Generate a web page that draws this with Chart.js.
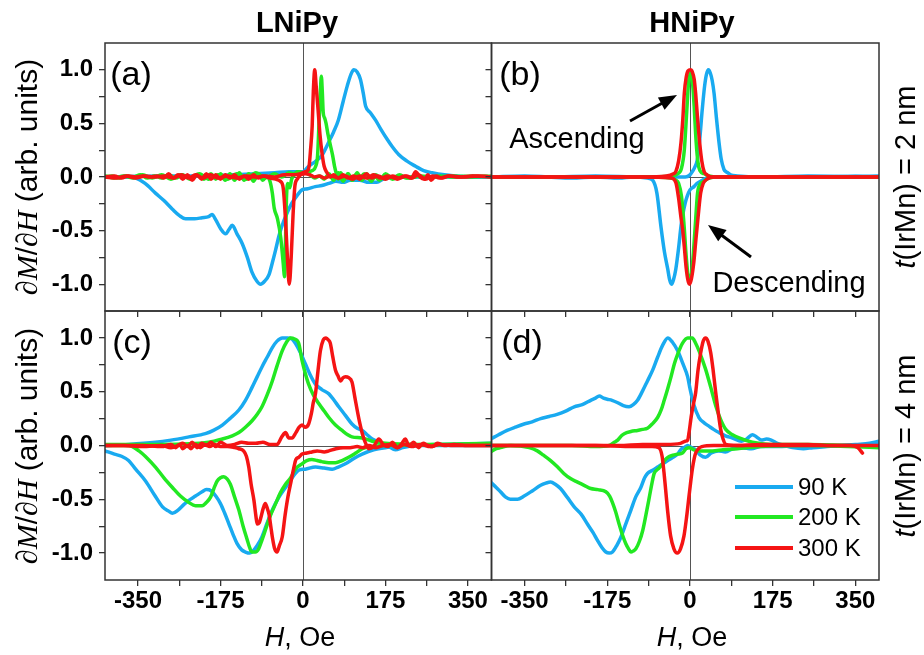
<!DOCTYPE html>
<html><head><meta charset="utf-8">
<script src="https://cdn.jsdelivr.net/npm/chart.js@4.4.1/dist/chart.umd.min.js"></script>
<style>
html,body{margin:0;padding:0;background:#fff;}
#wrap{position:relative;width:924px;height:655px;overflow:hidden;font-family:'Liberation Sans',Arial,sans-serif;color:#000;}
canvas{position:absolute;left:0;top:0;}
.t{position:absolute;white-space:nowrap;line-height:1;transform:translate(-50%,-50%);}
.rot{transform:translate(-50%,-50%) rotate(-90deg);}
.m{font-family:'Liberation Serif','Times New Roman',serif;font-style:italic;}
.lg{position:absolute;height:4px;width:58px;}
.lt{position:absolute;white-space:nowrap;line-height:1;transform:translateY(-50%);font-size:24px;}
</style></head><body>
<div id="wrap">
<canvas id="cA" width="924" height="655"></canvas>
<canvas id="cB" width="924" height="655"></canvas>
<canvas id="cC" width="924" height="655"></canvas>
<canvas id="cD" width="924" height="655"></canvas>

<div class="t" style="left:297px;top:22px;font-size:29px;font-weight:bold;">LNiPy</div>
<div class="t" style="left:692px;top:22px;font-size:29px;font-weight:bold;">HNiPy</div>

<div class="t rot" style="left:27px;top:177px;font-size:30px;"><span class="m">∂M</span>/<span class="m">∂H</span> (arb. units)</div>
<div class="t rot" style="left:27px;top:446px;font-size:30px;"><span class="m">∂M</span>/<span class="m">∂H</span> (arb. units)</div>

<div class="t rot" style="left:905px;top:177px;font-size:29px;"><i>t</i>(IrMn) = 2 nm</div>
<div class="t rot" style="left:905px;top:446px;font-size:29px;"><i>t</i>(IrMn) = 4 nm</div>

<div class="t" style="left:300px;top:637px;font-size:27px;"><i>H</i>, Oe</div>
<div class="t" style="left:692px;top:637px;font-size:27px;"><i>H</i>, Oe</div>

<div class="t" style="left:131px;top:73px;font-size:34px;">(a)</div>
<div class="t" style="left:520px;top:73px;font-size:34px;">(b)</div>
<div class="t" style="left:132px;top:341px;font-size:34px;">(c)</div>
<div class="t" style="left:522px;top:341px;font-size:34px;">(d)</div>

<div class="t" style="left:577px;top:138px;font-size:29px;">Ascending</div>
<div class="t" style="left:789px;top:282px;font-size:29px;">Descending</div>

<svg width="924" height="655" style="position:absolute;left:0;top:0;">
  <line x1="630" y1="121" x2="666.5" y2="100.8" stroke="#000" stroke-width="3"/>
  <polygon points="677,95 664.6,109.8 657.9,97.6" fill="#000"/>
  <line x1="751" y1="257" x2="717.6" y2="232.2" stroke="#000" stroke-width="3"/>
  <polygon points="708,225 726.6,230.1 718.2,241.3" fill="#000"/>
</svg>

<div id="legend"></div>
</div>

<script>
// ---------------- data ----------------
const TEMPS = ['90 K', '200 K', '300 K'];
const COLORS = ['#19aaf0', '#22e822', '#f51414'];

const X_TICKS = [-350, -262.5, -175, -87.5, 0, 87.5, 175, 262.5, 350];
const X_LABELS = [-350, -175, 0, 175, 350];
const Y_TICKS = [-1, -0.75, -0.5, -0.25, 0, 0.25, 0.5, 0.75, 1];
const Y_LABELS = [-1, -0.5, 0, 0.5, 1];

// Panel (a) LNiPy, t = 2 nm
const a90Desc = [[-420,0],[-380,0],[-355,-0.01],[-335,-0.06],[-313,-0.15],[-295,-0.22],[-277,-0.30],[-262,-0.36],[-249,-0.39],[-230,-0.39],[-214,-0.38],[-200,-0.37],[-193,-0.35],[-185,-0.40],[-175,-0.48],[-164,-0.53],[-157,-0.49],[-150,-0.45],[-140,-0.53],[-129,-0.62],[-118,-0.75],[-108,-0.89],[-98,-0.97],[-90,-1.0],[-81,-0.97],[-72,-0.91],[-65,-0.80],[-58,-0.68],[-51,-0.55],[-44,-0.45],[-35,-0.35],[-23,-0.24],[-12,-0.17],[-2,-0.12],[10,-0.11],[26,-0.09],[40,-0.08],[55,-0.06],[70,-0.04],[85,-0.05],[100,-0.03],[120,-0.03],[140,-0.05],[157,-0.05],[170,-0.02],[200,0],[260,0],[400,0]];
const a90Asc = [[-420,0],[-300,0.01],[-200,0.01],[-150,0.02],[-100,0.03],[-60,0.04],[-30,0.05],[0,0.05],[12,0.10],[25,0.14],[40,0.20],[54,0.32],[65,0.42],[75,0.53],[85,0.70],[94,0.85],[102,0.96],[108,1.0],[115,0.98],[122,0.91],[128,0.78],[133,0.66],[143,0.60],[154,0.53],[166,0.44],[179,0.35],[190,0.28],[203,0.21],[220,0.15],[239,0.10],[256,0.06],[274,0.04],[300,0.02],[323,0.01],[360,0],[400,0]];
const a200Desc = [[-420,0],[-405,0.01],[-390,-0.01],[-375,0.01],[-360,0],[-345,0.02],[-330,-0.01],[-315,0.01],[-300,-0.01],[-285,0.02],[-270,-0.01],[-255,0.02],[-240,-0.02],[-225,0.02],[-210,-0.02],[-195,0.03],[-185,-0.02],[-175,0.03],[-165,-0.03],[-155,0.03],[-145,-0.03],[-135,0.04],[-125,-0.03],[-115,0.03],[-105,-0.04],[-95,0.03],[-85,-0.03],[-77,0.01],[-70,-0.04],[-65,-0.15],[-61,-0.29],[-54,-0.39],[-47,-0.57],[-42,-0.80],[-39,-0.93],[-37,-0.60],[-35,-0.20],[-32,-0.06],[-28,-0.10],[-24,-0.02],[-18,0.02],[-10,0.05],[-3,0.03],[5,0.04],[15,0.02],[25,-0.01],[35,0.01],[45,-0.02],[55,0.03],[65,-0.03],[75,0.04],[85,-0.04],[95,0.03],[105,-0.03],[115,0.04],[125,-0.03],[135,0.03],[145,-0.04],[155,0.02],[165,-0.02],[175,0.03],[190,-0.01],[205,0.02],[220,-0.01],[240,0.01],[260,-0.01],[290,0.01],[320,0],[360,0.01],[400,0]];
const a200Asc = [[-420,0.01],[-400,-0.01],[-380,0.01],[-360,-0.01],[-340,0.02],[-320,-0.01],[-300,0.02],[-280,-0.02],[-260,0.02],[-240,-0.01],[-220,0.03],[-200,-0.02],[-180,0.02],[-160,-0.02],[-140,0.03],[-120,-0.02],[-100,0.04],[-80,-0.01],[-60,0.03],[-45,0.0],[-30,0.04],[-20,0.03],[-10,0.05],[0,0.04],[10,0.05],[20,0.06],[27,0.10],[31,0.20],[34,0.50],[37,0.80],[39,0.94],[41,0.80],[43,0.60],[46,0.55],[49,0.50],[53,0.40],[58,0.30],[63,0.20],[67,0.10],[71,0.03],[75,-0.02],[80,0.04],[88,-0.02],[96,0.03],[104,-0.03],[112,0.02],[120,-0.01],[130,0.03],[140,-0.02],[150,0.02],[162,-0.03],[175,0.02],[190,-0.02],[205,0.01],[225,-0.01],[250,0.01],[280,0],[320,0.01],[360,0],[400,0.01]];
const a300Desc = [[-420,0],[-400,0.01],[-385,-0.01],[-370,0.01],[-355,0],[-340,0.01],[-325,0],[-310,0.01],[-295,-0.01],[-285,0.03],[-275,-0.01],[-265,0.02],[-255,-0.02],[-245,0.02],[-235,-0.03],[-225,0.02],[-215,-0.02],[-205,0.03],[-195,-0.02],[-185,0.02],[-175,-0.02],[-165,0.02],[-155,-0.01],[-145,0.02],[-135,-0.02],[-125,0.01],[-115,-0.02],[-105,0.02],[-95,-0.01],[-85,0.01],[-70,-0.01],[-58,-0.02],[-48,-0.04],[-42,-0.10],[-37,-0.40],[-33,-0.75],[-29,-1.0],[-25,-0.75],[-21,-0.35],[-17,-0.08],[-12,-0.02],[-5,0.02],[5,0.03],[15,0.02],[25,0],[35,0.01],[45,-0.01],[60,0.01],[75,-0.01],[90,0.01],[105,-0.02],[120,0.01],[135,-0.01],[150,0.02],[165,-0.01],[180,0.01],[200,-0.02],[215,0.01],[230,-0.01],[245,0.02],[260,-0.02],[275,0.01],[290,-0.01],[310,0.01],[340,0],[370,0.01],[400,0]];
const a300Asc = [[-420,0],[-395,-0.01],[-375,0.01],[-355,-0.01],[-335,0.01],[-315,0],[-295,0.01],[-275,-0.01],[-258,0.02],[-242,-0.01],[-228,0.02],[-212,-0.01],[-196,0.02],[-180,-0.01],[-160,0.01],[-140,-0.01],[-120,0.01],[-100,0],[-80,0.01],[-60,0.0],[-40,0.02],[-20,0.02],[-5,0.03],[0,0.04],[5,0.05],[10,0.06],[13,0.10],[16,0.25],[19.5,0.47],[22,0.80],[25,1.0],[28,0.85],[32,0.63],[36,0.40],[40.5,0.22],[45,0.10],[51,0.04],[58,0],[65,0.02],[75,-0.01],[85,0.02],[95,-0.01],[108,0.01],[120,-0.02],[135,0.03],[145,-0.01],[160,0.01],[175,-0.02],[190,0.01],[205,-0.01],[220,0.01],[230,-0.01],[239,0.05],[248,0],[258,-0.02],[265,0.02],[272,-0.03],[282,0.01],[295,-0.01],[310,0.01],[330,0],[360,0.01],[400,0]];

// Panel (b) HNiPy, t = 2 nm
const b90Desc = [[-420,0],[-350,0.01],[-300,0],[-250,-0.01],[-200,0],[-150,-0.01],[-120,0],[-90,-0.01],[-79,-0.03],[-70,-0.15],[-61.5,-0.46],[-54,-0.70],[-47,-0.86],[-43,-0.96],[-39,-1.0],[-35,-0.96],[-30,-0.86],[-24,-0.66],[-19,-0.46],[-16,-0.37],[-10,-0.24],[-6,-0.18],[0,-0.12],[8.5,-0.09],[15,-0.06],[22.6,-0.04],[35,-0.01],[50,0],[150,0],[250,0.01],[400,0]];
const b90Asc = [[-420,0],[-300,0],[-200,0.01],[-100,0],[-10,0],[0,0.02],[5,0.05],[10,0.09],[15.5,0.16],[20,0.32],[26,0.63],[31,0.85],[35,0.96],[39,1.0],[43,0.97],[47,0.90],[51,0.78],[56,0.55],[61.5,0.32],[66,0.17],[72,0.07],[76,0.05],[80,0.04],[86,0.02],[100,0.01],[150,0],[250,0],[400,0.01]];
const b200Desc = [[-420,0],[-300,0],[-200,0],[-100,0],[-40,-0.01],[-30,-0.03],[-24,-0.06],[-18,-0.18],[-13,-0.42],[-8,-0.74],[-4,-0.92],[0,-0.97],[4,-0.88],[8,-0.66],[12,-0.40],[16,-0.15],[21,-0.07],[30,-0.04],[40,-0.01],[60,0],[400,0]];
const b200Asc = [[-420,0],[-300,0],[-200,0],[-100,0],[-40,0.01],[-26,0.03],[-18,0.08],[-12,0.25],[-7,0.60],[-3,0.88],[1,0.97],[5,0.90],[9,0.65],[12,0.40],[16,0.17],[21,0.06],[30,0.03],[40,0.01],[60,0],[400,0]];
const b300Desc = [[-420,0],[-300,0],[-200,0],[-100,0],[-40,-0.01],[-30,-0.05],[-24,-0.20],[-19,-0.38],[-15.5,-0.49],[-12,-0.65],[-8,-0.85],[-4,-0.97],[-1,-1.0],[3,-0.95],[8,-0.80],[12,-0.61],[17,-0.38],[22.6,-0.15],[28,-0.06],[36,-0.02],[50,0],[400,0]];
const b300Asc = [[-420,0],[-300,0],[-200,0],[-100,0],[-50,0.01],[-35,0.03],[-30,0.05],[-24,0.15],[-19,0.32],[-15,0.55],[-12,0.78],[-8,0.93],[-4,0.99],[1,1.0],[5,0.98],[9,0.91],[12,0.78],[16,0.55],[20.5,0.32],[25,0.15],[30,0.05],[36,0.02],[45,0],[400,0]];

// Panel (c) LNiPy, t = 4 nm
const c90Desc = [[-420,-0.05],[-400,-0.08],[-385,-0.10],[-370,-0.14],[-355,-0.22],[-334,-0.33],[-315,-0.46],[-298,-0.57],[-285,-0.61],[-277,-0.63],[-265,-0.60],[-253,-0.55],[-242,-0.51],[-228,-0.47],[-214,-0.43],[-205,-0.41],[-195,-0.42],[-185,-0.47],[-175,-0.54],[-166,-0.63],[-157,-0.73],[-148,-0.83],[-140,-0.91],[-130,-0.97],[-122,-0.99],[-113,-1.0],[-108,-0.99],[-97,-0.93],[-87,-0.85],[-76,-0.72],[-65,-0.60],[-51,-0.48],[-37,-0.39],[-26,-0.32],[-16,-0.26],[-9,-0.23],[5,-0.22],[26.5,-0.20],[45,-0.21],[62,-0.22],[75,-0.20],[90,-0.17],[108,-0.12],[125.6,-0.08],[150,-0.04],[175,-0.02],[200,-0.01],[250,0],[400,0]];
const c90Asc = [[-420,0],[-370,0.01],[-313,0.03],[-280,0.05],[-242,0.08],[-207,0.11],[-190,0.14],[-171,0.19],[-155,0.25],[-136,0.33],[-122,0.42],[-108,0.54],[-97,0.64],[-87,0.73],[-76,0.82],[-65,0.91],[-55,0.97],[-44,1.0],[-33,1.0],[-23,0.99],[-16,0.95],[-5,0.86],[5,0.76],[15,0.66],[26.5,0.57],[40,0.52],[55,0.48],[66,0.42],[76,0.36],[90,0.28],[104,0.20],[115,0.16],[125.6,0.14],[136,0.10],[147,0.06],[168,0.02],[182,-0.01],[196,-0.04],[212,-0.02],[240,0],[300,0.01],[400,0.02]];
const c200Desc = [[-420,0],[-370,0],[-348,-0.05],[-330,-0.12],[-313,-0.20],[-295,-0.30],[-277,-0.39],[-260,-0.47],[-242,-0.53],[-228,-0.56],[-214,-0.56],[-205,-0.53],[-196,-0.48],[-189,-0.40],[-182,-0.33],[-175,-0.30],[-168,-0.29],[-161,-0.31],[-154,-0.36],[-145,-0.48],[-136,-0.60],[-127,-0.75],[-118,-0.88],[-113,-0.95],[-108,-0.99],[-101,-0.99],[-94,-0.96],[-87,-0.88],[-80,-0.79],[-70,-0.66],[-58,-0.54],[-48,-0.44],[-37,-0.36],[-26,-0.30],[-16,-0.22],[-2,-0.17],[8,-0.14],[19,-0.13],[30,-0.14],[40,-0.15],[55,-0.16],[69,-0.16],[83,-0.14],[97,-0.11],[112,-0.07],[126,-0.03],[145,-0.01],[175,0],[400,0.01]];
const c200Asc = [[-420,0.01],[-300,0.01],[-200,0.03],[-171,0.06],[-150,0.09],[-136,0.12],[-122,0.17],[-108,0.23],[-97,0.29],[-87,0.36],[-76,0.47],[-65,0.60],[-55,0.74],[-44,0.88],[-35,0.96],[-26.5,1.0],[-18,0.99],[-9,0.95],[-2,0.79],[5,0.67],[12,0.57],[22,0.47],[33.5,0.39],[45,0.32],[55,0.26],[69,0.19],[83,0.14],[95,0.10],[104,0.08],[125.6,0.07],[147,0.04],[175,0.02],[250,0.01],[400,0.02]];
const c300Desc = [[-420,0],[-380,0],[-340,0],[-300,-0.01],[-280,0.01],[-270,-0.02],[-262,0.01],[-255,-0.03],[-245,0],[-238,-0.03],[-228,0.01],[-218,-0.02],[-208,0.01],[-198,-0.01],[-188,0.01],[-175,-0.01],[-160,-0.01],[-145,-0.02],[-136,-0.03],[-126,-0.05],[-120,-0.10],[-115,-0.20],[-110,-0.36],[-104,-0.51],[-100,-0.65],[-97,-0.73],[-93,-0.72],[-90,-0.68],[-84,-0.58],[-80,-0.54],[-76,-0.58],[-72,-0.64],[-68,-0.76],[-65,-0.85],[-60,-0.96],[-55,-0.99],[-50,-0.93],[-44,-0.85],[-38,-0.65],[-32,-0.48],[-26.5,-0.36],[-20,-0.22],[-15,-0.13],[-9,-0.11],[-2,-0.08],[8,-0.07],[19,-0.06],[30,-0.05],[45,-0.06],[55,-0.05],[70,-0.03],[85,-0.02],[100,-0.02],[115,-0.01],[126,-0.02],[140,0],[155,-0.02],[170,0],[185,0.01],[200,-0.02],[215,0.01],[230,-0.01],[250,0.01],[270,-0.01],[290,0.01],[320,0],[400,0]];
const c300Asc = [[-420,0],[-380,0],[-340,-0.01],[-300,0],[-280,-0.02],[-265,0],[-255,0.02],[-245,-0.01],[-235,0.03],[-225,-0.02],[-215,0.02],[-205,0],[-195,0.03],[-185,-0.01],[-175,0.03],[-160,0],[-145,0.01],[-130,0.03],[-115,0.02],[-100,0.02],[-85,0.03],[-70,0.01],[-55,0.01],[-45,0.08],[-37,0.12],[-30,0.07],[-23,0.07],[-15,0.12],[-8,0.17],[-2,0.19],[5,0.17],[12,0.20],[18,0.30],[22,0.40],[26.5,0.48],[32,0.70],[37,0.88],[43,0.98],[49,1.0],[54,0.98],[58,0.95],[63,0.83],[69,0.70],[74,0.65],[80,0.60],[85,0.63],[90,0.64],[97,0.63],[104,0.59],[110,0.45],[115,0.33],[120,0.22],[126,0.11],[133,0.02],[140,-0.03],[150,-0.01],[161,0.06],[170,0.01],[180,-0.01],[190,0.03],[200,-0.02],[210,0.02],[217,0.06],[225,0],[235,0.03],[245,-0.02],[255,0.02],[265,0],[275,-0.01],[285,0.02],[300,0],[320,0.01],[350,0],[400,0]];

// Panel (d) HNiPy, t = 4 nm
const d90Desc = [[-422,-0.34],[-410,-0.39],[-401,-0.43],[-390,-0.48],[-380,-0.50],[-365,-0.50],[-351,-0.47],[-333,-0.42],[-316,-0.37],[-305,-0.35],[-295,-0.34],[-285,-0.36],[-274,-0.40],[-260,-0.48],[-245,-0.57],[-230,-0.64],[-217,-0.73],[-205,-0.81],[-196,-0.88],[-186,-0.95],[-178,-0.99],[-171,-1.0],[-164,-0.99],[-155,-0.93],[-146,-0.85],[-135,-0.72],[-125,-0.60],[-115,-0.48],[-104,-0.39],[-96,-0.30],[-90,-0.26],[-79,-0.23],[-68.5,-0.20],[-58,-0.17],[-47,-0.14],[-36,-0.11],[-26,-0.08],[-18,-0.03],[-12,-0.02],[-5,0],[3,-0.02],[12,-0.04],[22,-0.09],[33,-0.11],[45,-0.07],[60,-0.05],[75,-0.06],[90,-0.03],[110,-0.02],[130,-0.03],[150,-0.01],[180,-0.01],[250,0],[320,0],[400,0.01]];
const d90Asc = [[-422,0.06],[-405,0.10],[-387,0.14],[-370,0.17],[-351,0.20],[-334,0.22],[-316,0.25],[-298,0.27],[-281,0.29],[-263,0.32],[-245,0.36],[-228,0.38],[-210,0.42],[-200,0.44],[-192,0.46],[-183,0.44],[-175,0.43],[-165,0.42],[-154,0.40],[-141,0.37],[-129,0.36],[-120,0.38],[-111,0.42],[-100,0.51],[-90,0.60],[-79,0.70],[-68.5,0.82],[-58,0.93],[-47,1.0],[-37,0.96],[-26,0.88],[-15,0.76],[-5,0.64],[0,0.53],[8,0.38],[19,0.26],[30,0.21],[40,0.18],[50,0.15],[61.5,0.12],[75,0.09],[90,0.07],[109,0.04],[120,0.06],[132,0.10],[141,0.08],[151,0.05],[162,0.06],[172,0.05],[185,0.02],[200,0],[217,-0.02],[240,-0.03],[260,-0.02],[290,-0.01],[320,0],[350,0.01],[380,0.02],[400,0.04]];
const d200Desc = [[-422,0],[-380,0],[-340,-0.02],[-323,-0.05],[-310,-0.09],[-295,-0.14],[-280,-0.20],[-267,-0.26],[-252,-0.31],[-238,-0.34],[-224,-0.37],[-210,-0.40],[-195,-0.41],[-178,-0.43],[-170,-0.47],[-164,-0.53],[-157,-0.62],[-150,-0.73],[-143,-0.83],[-136,-0.91],[-130,-0.96],[-125,-0.99],[-120,-0.98],[-114.5,-0.96],[-107,-0.89],[-100,-0.79],[-93,-0.64],[-86,-0.48],[-80,-0.34],[-75.7,-0.26],[-68,-0.22],[-61.5,-0.19],[-54,-0.14],[-47,-0.11],[-36,-0.09],[-26,-0.08],[-16,-0.07],[-8,-0.03],[-2,-0.02],[8,-0.04],[19,-0.05],[33,-0.05],[47,-0.05],[70,-0.04],[100,-0.03],[150,-0.01],[250,0],[400,-0.02]];
const d200Asc = [[-422,-0.06],[-410,-0.03],[-401,-0.02],[-380,0],[-300,0],[-250,0],[-200,-0.01],[-171,0],[-160,0.03],[-153,0.05],[-145,0.09],[-139,0.11],[-125,0.13],[-111,0.14],[-100,0.15],[-90,0.16],[-80,0.20],[-68.5,0.26],[-61,0.33],[-54.5,0.42],[-47,0.53],[-40,0.64],[-33,0.76],[-26,0.85],[-16,0.95],[-5,1.0],[5,1.0],[12,0.95],[20,0.87],[33,0.71],[44,0.54],[54.5,0.37],[65,0.24],[75.7,0.15],[90,0.10],[104,0.07],[132,0.03],[170,0.01],[250,0.01],[400,-0.01]];
const d300Desc = [[-422,0],[-300,0],[-200,0],[-120,-0.01],[-80,-0.01],[-66,-0.02],[-59,-0.10],[-55,-0.25],[-51.5,-0.41],[-47,-0.62],[-41,-0.84],[-34,-0.96],[-27,-1.0],[-20,-0.96],[-12.7,-0.84],[-7,-0.66],[-2,-0.47],[2,-0.32],[5,-0.22],[9,-0.12],[12,-0.07],[18,-0.03],[25,-0.01],[50,0],[200,0],[400,0]];
const d300Asc = [[-422,0],[-350,0],[-250,0],[-150,0],[-100,0.01],[-50,0.01],[-20,0.02],[-10,0.04],[-5,0.05],[-2,0.12],[3,0.28],[8,0.40],[12,0.49],[17,0.70],[22.6,0.86],[28,0.97],[33,1.0],[38,0.97],[44,0.86],[49,0.70],[54.5,0.49],[60,0.30],[65,0.15],[70,0.06],[76,0.01],[100,0],[150,0.01],[200,0.01],[250,0.01],[300,0],[340,0],[355,-0.02],[365,-0.07]];

// ---------------- layout ----------------
const YW = 60, XH = 40;
const PANELS = [
  { id: 'cA', rect: [105, 43, 491.5, 311], showX: false, showY: true,  series: [[a90Desc, a90Asc], [a200Desc, a200Asc], [a300Desc, a300Asc]] },
  { id: 'cB', rect: [491.5, 43, 879, 311], showX: false, showY: false, series: [[b90Desc, b90Asc], [b200Desc, b200Asc], [b300Desc, b300Asc]] },
  { id: 'cC', rect: [105, 311, 491.5, 580], showX: true,  showY: true,  series: [[c90Desc, c90Asc], [c200Desc, c200Asc], [c300Desc, c300Asc]] },
  { id: 'cD', rect: [491.5, 311, 879, 580], showX: true,  showY: false, series: [[d90Desc, d90Asc], [d200Desc, d200Asc], [d300Desc, d300Asc]] }
];

const FONT = "'Liberation Sans', Arial, sans-serif";

const framePlugin = {
  id: 'frame',
  beforeDatasetsDraw(chart) {
    const { ctx, chartArea: a, scales } = chart;
    const x0 = Math.round(scales.x.getPixelForValue(0)) + 0.5, y0 = Math.round(scales.y.getPixelForValue(0)) + 0.5;
    ctx.save();
    ctx.strokeStyle = '#555';
    ctx.lineWidth = 1;
    ctx.beginPath();
    ctx.moveTo(x0, a.top); ctx.lineTo(x0, a.bottom);
    ctx.moveTo(a.left, y0); ctx.lineTo(a.right, y0);
    ctx.stroke();
    ctx.restore();
  },
  afterDatasetsDraw(chart) {
    const { ctx, chartArea: a } = chart;
    ctx.save();
    ctx.strokeStyle = '#333';
    ctx.lineWidth = 1.5;
    ctx.strokeRect(a.left, a.top, a.right - a.left, a.bottom - a.top);
    ctx.restore();
  }
};

function zeroPad(s) { s.paddingLeft = 0; s.paddingRight = 0; s.paddingTop = 0; s.paddingBottom = 0; }

PANELS.forEach(p => {
  const [L, T, R, B] = p.rect;
  const datasets = [];
  p.series.forEach((pair, ti) => {
    pair.forEach((data, bi) => {
      datasets.push({
        label: TEMPS[ti] + (bi ? ' asc' : ' desc'),
        data: data,
        borderColor: COLORS[ti],
        backgroundColor: COLORS[ti],
        order: 2 - ti,
        fill: false
      });
    });
  });
  new Chart(document.getElementById(p.id), {
    type: 'line',
    data: { datasets },
    options: {
      responsive: false,
      animation: false,
      devicePixelRatio: 1,
      events: [],
      layout: { padding: { left: L - YW, top: T, right: 924 - R, bottom: 655 - B - XH } },
      plugins: { legend: { display: false }, tooltip: { enabled: false }, title: { display: false } },
      elements: {
        point: { radius: 0, hoverRadius: 0 },
        line: { borderWidth: 3.5, cubicInterpolationMode: 'monotone', borderJoinStyle: 'round', borderCapStyle: 'round' }
      },
      scales: {
        x: {
          type: 'linear', min: -420, max: 400, position: 'bottom',
          afterBuildTicks: s => { s.ticks = X_TICKS.map(v => ({ value: v })); },
          afterFit: s => { s.height = XH; zeroPad(s); },
          border: { display: false },
          grid: { drawOnChartArea: false, drawTicks: true, tickLength: 6, color: '#333', lineWidth: 1.3 },
          ticks: {
            display: p.showX, autoSkip: false, maxRotation: 0, minRotation: 0, padding: 1, color: '#000',
            font: { family: FONT, size: 24, weight: 'bold' },
            callback: v => X_LABELS.includes(v) ? String(v) : ''
          }
        },
        y: {
          type: 'linear', min: -1.25, max: 1.25, position: 'left',
          afterBuildTicks: s => { s.ticks = Y_TICKS.map(v => ({ value: v })); },
          afterFit: s => { s.width = YW; zeroPad(s); },
          border: { display: false },
          grid: { drawOnChartArea: false, drawTicks: true, tickLength: 6, color: '#333', lineWidth: 1.3 },
          ticks: {
            display: p.showY, autoSkip: false, padding: 6, color: '#000',
            font: { family: FONT, size: 24, weight: 'bold' },
            callback: v => Y_LABELS.includes(v) ? v.toFixed(1) : ''
          }
        }
      }
    },
    plugins: [framePlugin]
  });
});

// legend (panel d)
const LEG_Y = [487, 517, 548];
const leg = document.getElementById('legend');
TEMPS.forEach((t, i) => {
  const line = document.createElement('div');
  line.className = 'lg';
  line.style.left = '735px';
  line.style.top = (LEG_Y[i] - 2) + 'px';
  line.style.background = COLORS[i];
  leg.appendChild(line);
  const txt = document.createElement('div');
  txt.className = 'lt';
  txt.style.left = '798px';
  txt.style.top = LEG_Y[i] + 'px';
  txt.textContent = t;
  leg.appendChild(txt);
});
</script>
</body></html>
